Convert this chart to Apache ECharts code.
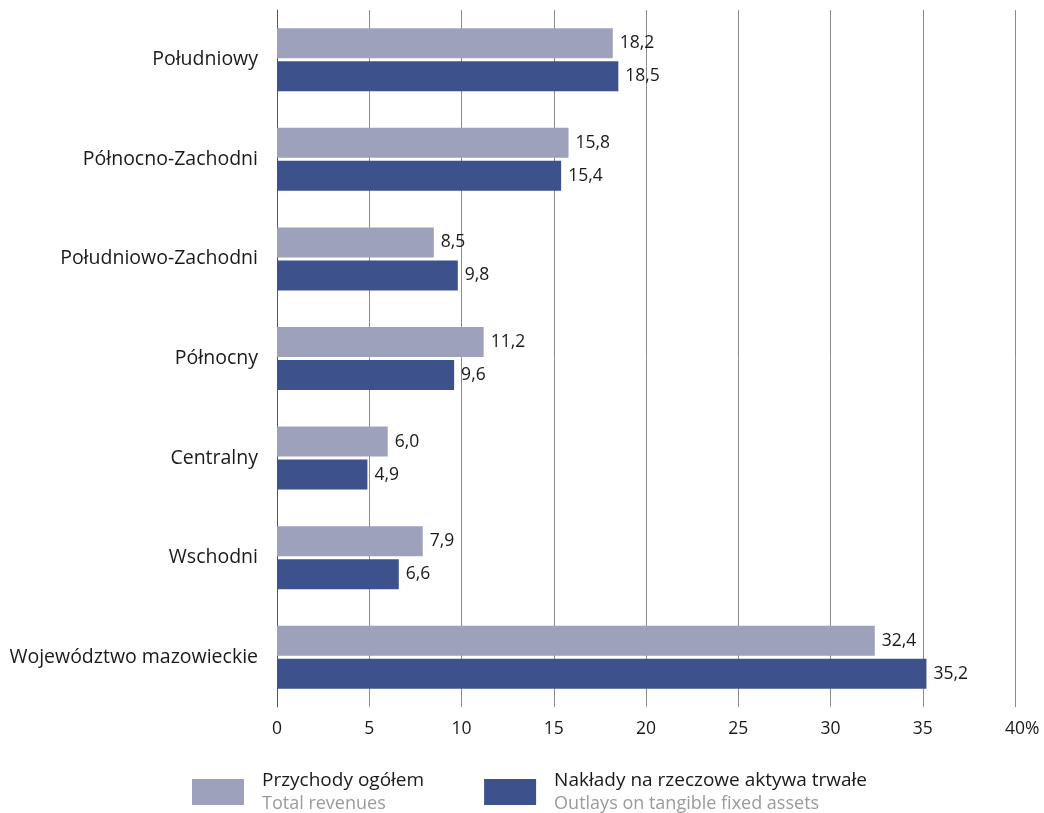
<!DOCTYPE html>
<html>
<head>
<meta charset="utf-8">
<script src="https://cdn.jsdelivr.net/npm/echarts@6/dist/echarts.min.js"></script>
<style>html,body{margin:0;padding:0;background:#fff}#c{width:1044px;height:813px}</style>
</head>
<body>
<div id="c"></div>
<script>
const categories = ['Południowy','Północno-Zachodni','Południowo-Zachodni','Północny','Centralny','Wschodni','Województwo mazowieckie'];
const revenues = [18.2, 15.8, 8.5, 11.2, 6.0, 7.9, 32.4];
const outlays = [18.5, 15.4, 9.8, 9.6, 4.9, 6.6, 35.2];
const seriesNames = ['Przychody ogółem', 'Nakłady na rzeczowe aktywa trwałe'];
const seriesNamesEn = ['Total revenues', 'Outlays on tangible fixed assets'];
const xTicks = [0, 5, 10, 15, 20, 25, 30, 35, 40];

const FONT = '"Open Sans", "Noto Sans", sans-serif';
const chart = echarts.init(document.getElementById('c'));
const fmt = v => v.toFixed(1).replace('.', ',');
const labelCfg = {
  show: true, position: 'right', distance: 7,
  color: '#1a1a1a', fontSize: 17.5, fontFamily: FONT,
  formatter: p => fmt(p.value)
};
chart.setOption({
  animation: false,
  textStyle: { fontFamily: FONT },
  grid: { left: 277, right: 29, top: 10, height: 697, containLabel: false },
  xAxis: {
    type: 'value', min: xTicks[0], max: xTicks[xTicks.length - 1], interval: 5,
    axisLine: { show: false }, axisTick: { show: false },
    splitLine: { show: true, lineStyle: { color: '#8c8c8c', width: 1 } },
    axisLabel: {
      color: '#1a1a1a', fontSize: 17.5, fontFamily: FONT, margin: 13,
      formatter: v => v === xTicks[xTicks.length - 1] ? '{h|%}' + v + '%' : String(v),
      rich: { h: { color: 'transparent', fontSize: 17.5, fontFamily: FONT } }
    }
  },
  yAxis: {
    type: 'category', data: categories, inverse: true,
    axisLine: { show: true, lineStyle: { color: '#555', width: 1 } },
    axisTick: { show: false },
    axisLabel: { color: '#1a1a1a', fontSize: 19.5, fontFamily: FONT, margin: 19 }
  },
  legend: {
    left: 192, top: 771, padding: 0, itemGap: 60, itemWidth: 52, itemHeight: 26,
    icon: 'rect',
    formatter: name => {
      const i = seriesNames.indexOf(name);
      return '{a|' + name + '}\n{b|' + seriesNamesEn[i] + '}';
    },
    textStyle: {
      padding: [0, 0, 0, 13],
      rich: {
        a: { fontSize: 19, color: '#1a1a1a', fontFamily: FONT, lineHeight: 23 },
        b: { fontSize: 18, color: '#9a9a9a', fontFamily: FONT, lineHeight: 23 }
      }
    }
  },
  series: [
    { name: seriesNames[0], type: 'bar', data: revenues, barWidth: 30, barGap: '10%',
      itemStyle: { color: '#9da1bb' }, label: labelCfg },
    { name: seriesNames[1], type: 'bar', data: outlays, barWidth: 30, barGap: '10%',
      itemStyle: { color: '#3d518c' }, label: labelCfg }
  ]
});
</script>
</body>
</html>
